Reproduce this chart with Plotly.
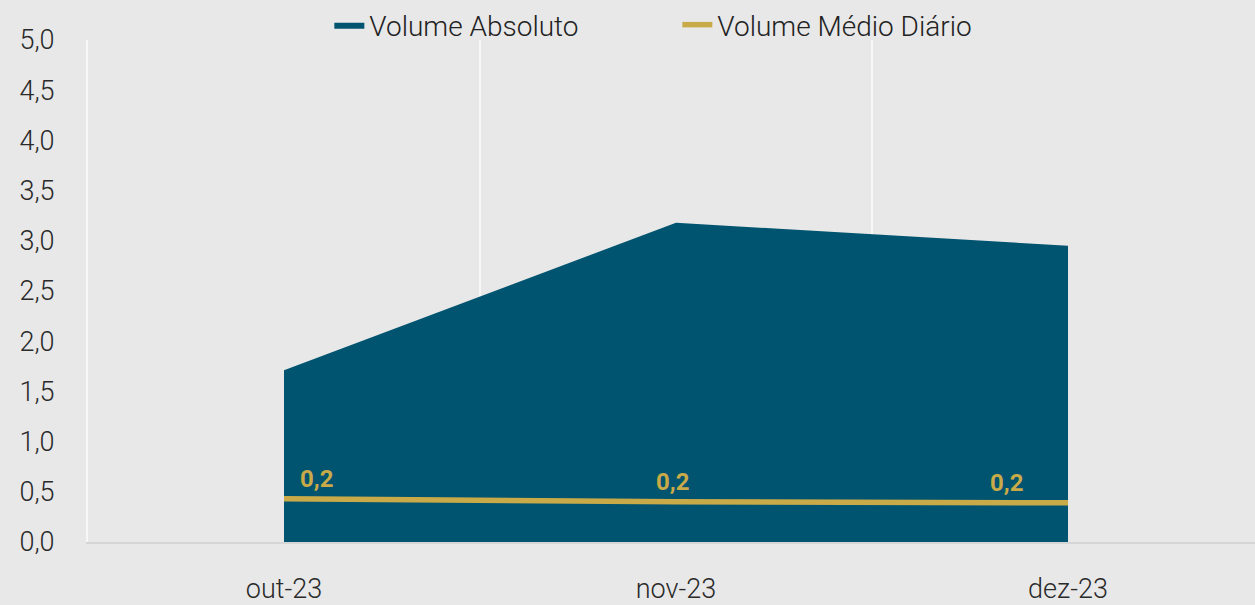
import plotly.graph_objects as go

months = ["out-23", "nov-23", "dez-23"]
volume_absoluto = [1.71, 3.18, 2.95]
volume_medio_diario = [0.215, 0.20, 0.195]
labels_medio = ["0,2", "0,2", "0,2"]
y_ticks = [0, 0.5, 1, 1.5, 2, 2.5, 3, 3.5, 4, 4.5, 5]

x = list(range(len(months)))
FONT = "Roboto"
GOLD = "#C9AA48"
NAVY = "#00546F"

fig = go.Figure()
fig.add_trace(go.Scatter(
    x=x, y=volume_absoluto, name="Volume Absoluto",
    mode="lines", fill="tozeroy", line=dict(color=NAVY, width=0),
    fillcolor=NAVY, yaxis="y"))
fig.add_trace(go.Scatter(
    x=x, y=volume_medio_diario, name="Volume Médio Diário",
    mode="lines", line=dict(color=GOLD, width=5.5),
    yaxis="y2"))

label_xshift = [32, -4, -62]
for xi, yi, t, dx in zip(x, volume_medio_diario, labels_medio, label_xshift):
    fig.add_annotation(x=xi, y=yi, xref="x", yref="y2", text="<b>%s</b>" % t,
                       showarrow=False, xshift=dx, yshift=20,
                       font=dict(color=GOLD, size=24, family=FONT))

fig.update_layout(
    width=1255, height=605,
    margin=dict(l=88, r=0, t=40, b=63, autoexpand=False),
    paper_bgcolor="#E8E8E8", plot_bgcolor="#E8E8E8",
    separators=",.",
    font=dict(family=FONT, color="#2a2a2a", size=26, weight=300),
    showlegend=True,
    legend=dict(orientation="h", x=0.505, xanchor="center", y=1.03, yanchor="middle",
                font=dict(size=28, family=FONT, color="#222", weight=300),
                bgcolor="rgba(0,0,0,0)", entrywidth=303, entrywidthmode="pixels",
                tracegroupgap=0),
    xaxis=dict(range=[-0.5, 2.477], tickvals=x, ticktext=months, automargin=False,
               showgrid=False, zeroline=False, showline=True, linecolor="#D6D6D6", linewidth=2,
               ticks="", ticklabelstandoff=22, tickfont=dict(size=27, weight=300),
               minor=dict(tickvals=[0.5, 1.5], showgrid=True, gridcolor="#F7F7F7", gridwidth=2)),
    yaxis=dict(range=[0, 5], tickvals=y_ticks, tickformat=".1f", automargin=False,
               showgrid=False, zeroline=False, showline=True, linecolor="#F7F7F7", linewidth=2,
               ticks="", ticklabelstandoff=26, tickfont=dict(size=27, weight=300)),
    yaxis2=dict(range=[0, 2.5], overlaying="y", visible=False),
)

fig.write_html("out.html", config={"displayModeBar": False},
               post_script="document.body.style.margin='0';document.body.style.overflow='hidden';")
